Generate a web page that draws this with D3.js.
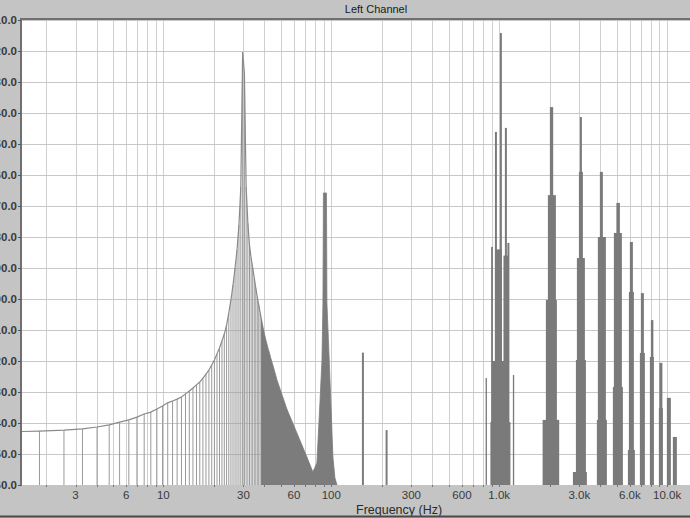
<!DOCTYPE html>
<html><head><meta charset="utf-8">
<script src="https://cdn.jsdelivr.net/npm/d3@7"></script>
<style>
html,body{margin:0;padding:0;overflow:hidden;background:#c4c4c4;}
svg{display:block;font-family:"Liberation Sans",Arial,sans-serif;}
</style>
</head><body>
<svg id="chart" width="690" height="518"></svg>
<script>
// ---- data ----
const binHz = [1.10,1.83,2.56,3.30,4.03,4.76,5.49,6.23,6.96,7.69,8.42,9.15,9.89,10.62,11.35,12.08,12.82,13.55,14.28,15.01,15.75,16.48,17.21,17.94,18.68,19.41,20.14,20.87,21.60,22.34,23.07,23.80,24.53,25.27,26.00,26.73,27.46,28.20,28.93,29.66,30.39,31.12,31.86,32.59,33.32,34.05,34.79,35.52,36.25,36.98,37.72,38.45];
const binDb = [-142.9,-142.6,-142.3,-141.9,-141.3,-140.6,-139.7,-139.0,-138.1,-137.1,-136.5,-135.5,-134.5,-133.5,-132.9,-132.3,-131.6,-130.6,-129.7,-128.7,-127.7,-126.8,-125.5,-124.2,-122.9,-121.3,-119.7,-117.7,-115.8,-113.5,-111.3,-108.4,-104.5,-100.3,-95.5,-90.0,-84.2,-76.1,-63.9,-20.3,-27.1,-63.9,-75.5,-82.6,-86.8,-90.0,-93.2,-96.5,-99.4,-101.9,-104.5,-106.8];

const denseHz = [38.45,39.18,39.91,40.65,41.38,42.11,42.84,43.58,44.31,45.04,47.5,50.0,54.4,62.4,71.6,77.7,82.1,85.6,88.0,89.2,89.8,93.6,94.2,98.1,102.3,105.1,108.1];
const denseDb = [-106.8,-109.0,-111.0,-112.9,-114.5,-116.1,-117.4,-119.0,-120.3,-121.6,-126.1,-129.7,-135.5,-143.2,-151.0,-155.8,-152.9,-133.5,-119.7,-101.3,-65.8,-65.8,-101.3,-125.2,-151.0,-157.7,-160];

const spikeHz = [154.3, 213.5];
const spikeDb = [-117.3, -142.3];

const bandLoHz = [829.6,886,904,943,1060,895,943,1009.5,1081,1119,1206,
  1813,1896,1949,2003,
  2747,2862,2901,2982,3023,
  3815,3867,3975,
  4751,4817,4986,
  5837,5919,5998,
  6880,6974,
  7891,8000,
  8927,8989,
  9961,
  10815];
const bandHiHz = [845,1166,1142,1037,1142,917,969,1037,1111,1150,1228,
  2276,2205,2175,2096,
  3327,3282,3237,3150,3107,
  4377,4317,4142,
  5450,5376,5231,
  6425,6337,6251,
  7368,7269,
  8335,8279,
  9431,9366,
  10523,
  11426];
const bandDb = [-125.5,-139.7,-120.0,-84.0,-86.0,-83.2,-46.1,-14.2,-44.8,-81.9,-124.5,
  -139.0,-100.3,-66.5,-38.1,
  -155.8,-119.7,-86.8,-59.0,-41.3,
  -139.0,-80.0,-59.0,
  -128.4,-78.7,-69.0,
  -148.7,-97.7,-81.6,
  -117.4,-98.1,
  -118.7,-106.8,
  -135.2,-120.6,
  -131.9,
  -144.5];

const yTickValues = [-160,-150,-140,-130,-120,-110,-100,-90,-80,-70,-60,-50,-40,-30,-20,-10];
const xTickValues = [3,6,10,30,60,100,300,600,1000,3000,6000,10000];
const xTickLabels = ["3","6","10","30","60","100","300","600","1.0k","3.0k","6.0k","10.0k"];

// ---- layout ----
const plot = {left:22, right:731, top:20, bottom:485};
const x = d3.scaleLog().domain([1.44, 24000]).range([plot.left, plot.right]);
const y = d3.scaleLinear().domain([-160, -10]).range([plot.bottom, plot.top]);

const svg = d3.select("#chart");
svg.append("rect").attr("x",0).attr("y",0).attr("width",690).attr("height",518).attr("fill","#c4c4c4");

svg.append("defs").append("clipPath").attr("id","pc")
  .append("rect").attr("x",plot.left).attr("y",plot.top)
  .attr("width",plot.right-plot.left).attr("height",plot.bottom-plot.top);

svg.append("rect").attr("x",plot.left).attr("y",plot.top)
  .attr("width",plot.right-plot.left).attr("height",plot.bottom-plot.top)
  .attr("fill","#ffffff");

const g = svg.append("g").attr("clip-path","url(#pc)");

// grid
const gridHz = x.ticks().filter(v => v > 1.5);
g.selectAll(".vg").data(gridHz).enter().append("line")
  .attr("x1",d=>Math.round(x(d))+0.5).attr("x2",d=>Math.round(x(d))+0.5)
  .attr("y1",plot.top).attr("y2",plot.bottom)
  .attr("stroke","#cfcfcf").attr("stroke-width",1);
g.selectAll(".hg").data(yTickValues).enter().append("line")
  .attr("x1",plot.left).attr("x2",plot.right)
  .attr("y1",d=>Math.round(y(d))+0.5).attr("y2",d=>Math.round(y(d))+0.5)
  .attr("stroke","#c8c8c8").attr("stroke-width",1);

// low-frequency bins
const bins = binHz.map((f,i)=>({f, db:binDb[i]}));
g.selectAll(".bin").data(bins).enter().append("line")
  .attr("x1",d=>x(d.f)).attr("x2",d=>x(d.f))
  .attr("y1",d=>y(d.db)).attr("y2",plot.bottom)
  .attr("stroke","#9a9a9a").attr("stroke-width",1);
g.append("path").datum(bins)
  .attr("d", d3.line().x(d=>x(d.f)).y(d=>y(d.db)))
  .attr("fill","none").attr("stroke","#8a8a8a").attr("stroke-width",1.2);

// dense region
const dense = denseHz.map((f,i)=>({f, db:denseDb[i]}));
g.append("path").datum(dense)
  .attr("d", d3.area().x(d=>x(d.f)).y0(plot.bottom).y1(d=>y(d.db)))
  .attr("fill","#7c7c7c").attr("stroke","#7c7c7c").attr("stroke-width",0.8);

// spikes
g.selectAll(".spk").data(spikeHz.map((f,i)=>({f, db:spikeDb[i]}))).enter().append("line")
  .attr("x1",d=>x(d.f)).attr("x2",d=>x(d.f))
  .attr("y1",d=>y(d.db)).attr("y2",plot.bottom)
  .attr("stroke","#7c7c7c").attr("stroke-width",2);

// harmonic clusters
const bands = bandLoHz.map((lo,i)=>({lo, hi:bandHiHz[i], db:bandDb[i]}));
g.selectAll(".band").data(bands).enter().append("rect")
  .attr("x",d=>x(d.lo)).attr("width",d=>Math.max(1.2, x(d.hi)-x(d.lo)))
  .attr("y",d=>y(d.db)).attr("height",d=>plot.bottom-y(d.db))
  .attr("fill","#7a7a7a");

// frame
svg.append("line").attr("x1",plot.left-1).attr("x2",plot.right)
  .attr("y1",plot.top-1).attr("y2",plot.top-1)
  .attr("stroke","#707070").attr("stroke-width",2);
svg.append("line").attr("x1",plot.left-1).attr("x2",plot.left-1)
  .attr("y1",plot.top-2).attr("y2",plot.bottom+1)
  .attr("stroke","#707070").attr("stroke-width",2);

// y ticks and labels
svg.selectAll(".yt").data(yTickValues).enter().append("line")
  .attr("x1",plot.left-4).attr("x2",plot.left-1)
  .attr("y1",d=>Math.round(y(d))+0.5).attr("y2",d=>Math.round(y(d))+0.5)
  .attr("stroke","#555").attr("stroke-width",1);
svg.selectAll(".yl").data(yTickValues).enter().append("text")
  .attr("x",17).attr("y",d=>y(d)+4)
  .attr("text-anchor","end").attr("font-size",11.5).attr("font-weight","bold")
  .attr("fill","#3a3a3a")
  .text(d=>d.toFixed(1));

// x ticks and labels
svg.selectAll(".xt").data(gridHz).enter().append("line")
  .attr("x1",d=>Math.round(x(d))+0.5).attr("x2",d=>Math.round(x(d))+0.5)
  .attr("y1",plot.bottom).attr("y2",plot.bottom+2)
  .attr("stroke","#777").attr("stroke-width",1);
svg.selectAll(".xl").data(xTickValues).enter().append("text")
  .attr("x",d=>x(d)).attr("y",plot.bottom+14)
  .attr("text-anchor","middle").attr("font-size",11.5)
  .attr("fill","#3a3a3a")
  .text((d,i)=>xTickLabels[i]);

// titles
svg.append("text").attr("x",376).attr("y",13)
  .attr("text-anchor","middle").attr("font-size",11).attr("fill","#1a1a1a")
  .text("Left Channel");
svg.append("text").attr("x",356).attr("y",514)
  .attr("text-anchor","start").attr("font-size",12.5).attr("fill","#2a2a2a")
  .text("Frequency (Hz)");

// bottom edge
svg.append("line").attr("x1",0).attr("x2",690).attr("y1",516.5).attr("y2",516.5)
  .attr("stroke","#4a4a4a").attr("stroke-width",2);
</script>
</body></html>
